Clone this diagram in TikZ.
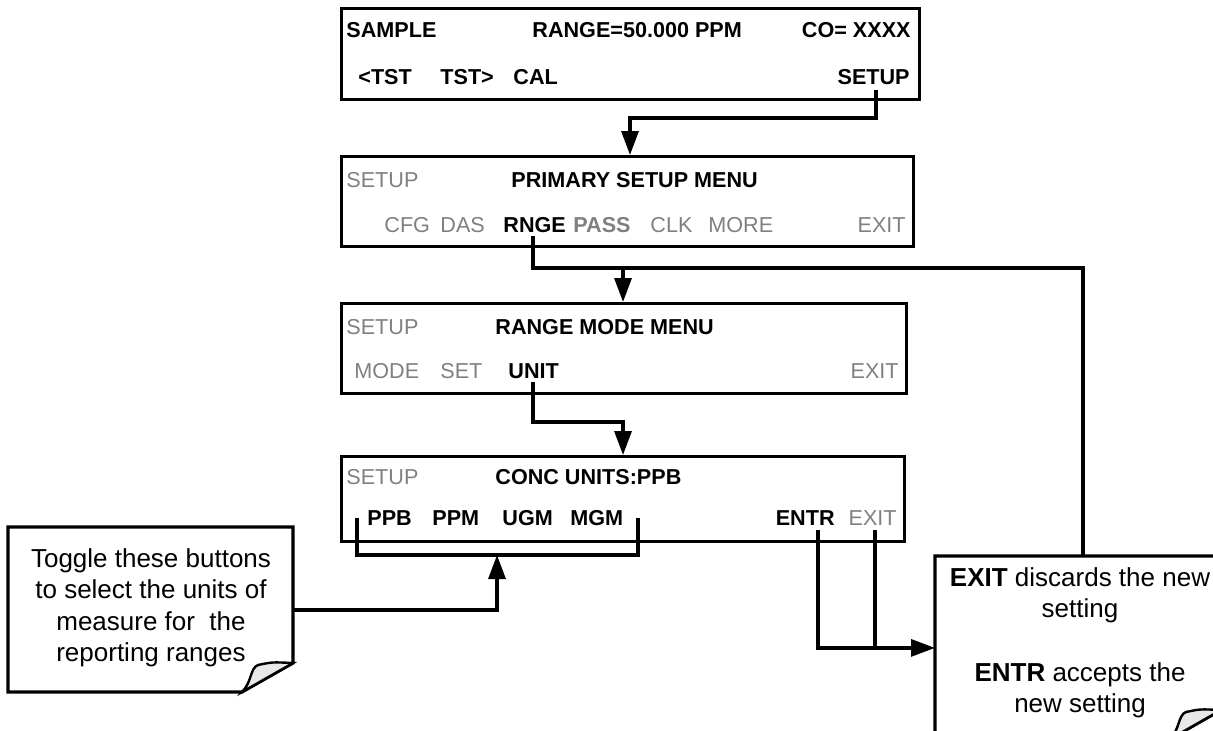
\documentclass[tikz,border=0pt]{standalone}
\usepackage{fontspec}
\setmainfont{Liberation Sans}
\usetikzlibrary{arrows.meta}
\definecolor{lcdgray}{gray}{0.5}
\begin{document}
\begin{tikzpicture}[x=0.5pt,y=-0.5pt,
  lcd/.style={draw=black,line width=1.6pt,inner sep=0pt,anchor=north west},
  key/.style={inner sep=0pt,font=\fontsize{10.8pt}{13pt}\selectfont\bfseries},
  dim/.style={inner sep=0pt,font=\fontsize{10.8pt}{13pt}\selectfont,text=lcdgray},
  keydim/.style={key,text=lcdgray},
  wire/.style={line width=1.6pt},
  arr/.style={wire,-{Triangle[length=12pt,width=8.5pt]}},
  noteline/.style={draw=black,line width=1.6pt,fill=white,line join=miter},
  curl/.style={draw=black,line width=1.2pt,fill=gray!18},
  notebox/.style={inner sep=0pt,anchor=north west},
  notetext/.style={inner sep=0pt,align=center,font=\fontsize{13pt}{15.75pt}\selectfont}]
\useasboundingbox (0,0) rectangle (1213,730);
\clip (0,0) rectangle (1213,730);

% ---------- LCD screens ----------
\node[lcd,minimum width=289pt,minimum height=45.5pt] (b1) at (340,7) {};
\node[lcd,minimum width=286pt,minimum height=45pt] (b2) at (340,155) {};
\node[lcd,minimum width=282.5pt,minimum height=45pt] (b3) at (340,302) {};
\node[lcd,minimum width=281.5pt,minimum height=42.5pt] (b4) at (340,455) {};

% screen 1
\node[key,anchor=base west] (s1a) at (346,37) {SAMPLE};
\node[key,anchor=base west] (s1b) at (532,37) {RANGE=50.000 PPM};
\node[key,anchor=base east] (s1c) at (911,37) {CO= XXXX};
\node[key,anchor=base west] (s1d) at (358,84) {<TST};
\node[key,anchor=base west] (s1e) at (440,84) {TST>};
\node[key,anchor=base west] (s1f) at (513,84) {CAL};
\node[key,anchor=base east] (setupk) at (910,84) {SETUP};

% screen 2
\node[dim,anchor=base west] (s2a) at (346,187) {SETUP};
\node[key,anchor=base west] (s2b) at (511,187) {PRIMARY SETUP MENU};
\node[dim,anchor=base west] (s2c) at (384,232) {CFG};
\node[dim,anchor=base west] (s2d) at (440,232) {DAS};
\node[key,anchor=base west] (rngek) at (503,232) {RNGE};
\node[keydim,anchor=base west] (s2e) at (573,232) {PASS};
\node[dim,anchor=base west] (s2f) at (650,232) {CLK};
\node[dim,anchor=base west] (s2g) at (708,232) {MORE};
\node[dim,anchor=base east] (s2h) at (906,232) {EXIT};

% screen 3
\node[dim,anchor=base west] (s3a) at (346,334) {SETUP};
\node[key,anchor=base west] (s3b) at (495,334) {RANGE MODE MENU};
\node[dim,anchor=base west] (s3c) at (354,378) {MODE};
\node[dim,anchor=base west] (s3d) at (440,378) {SET};
\node[key,anchor=base west] (unitk) at (508,378) {UNIT};
\node[dim,anchor=base east] (s3e) at (899,378) {EXIT};

% screen 4
\node[dim,anchor=base west] (s4a) at (346,484) {SETUP};
\node[key,anchor=base west] (s4b) at (495,484) {CONC UNITS:PPB};
\node[key,anchor=base west] (ppbk) at (367,525) {PPB};
\node[key,anchor=base west] (ppmk) at (432,525) {PPM};
\node[key,anchor=base west] (ugmk) at (502,525) {UGM};
\node[key,anchor=base west] (mgmk) at (570,525) {MGM};
\node[key,anchor=base east] (entrk) at (835,525) {ENTR};
\node[dim,anchor=base east] (exitk) at (897,525) {EXIT};

% ---------- notes ----------
\draw[noteline] (8,527) -- (293,527) -- (293,663) -- (242,692) -- (8,692) -- cycle;
\draw[curl] (242,692) .. controls (252,682) and (250,668) .. (258,665)
            .. controls (272,662) .. (293,663) -- cycle;
\node[notebox,minimum width=142.5pt,minimum height=82.5pt] (lnote) at (8,527) {};
\node[notetext] (ltext) at (151,608) {Toggle these buttons\\to select the units of\\measure for~ the\\reporting ranges};

\draw[noteline] (935,556) -- (1221,556) -- (1221,710) -- (1170,739) -- (935,739) -- cycle;
\draw[curl] (1170,739) .. controls (1180,729) and (1178,715) .. (1186,712)
            .. controls (1200,709) .. (1221,710) -- cycle;
\node[notebox,minimum width=143pt,minimum height=91.5pt] (enote) at (935,556) {};
\node[notetext] (etext) at (1080,643) {\textbf{EXIT} discards the new\\setting\\[16pt]\textbf{ENTR} accepts the\\new setting};

% ---------- connectors ----------
\coordinate (c1s) at (876,90);
\coordinate (c1a) at (630,118);
\draw[arr] (c1s) |- (c1a) -- (c1a |- b2.north);

\coordinate (c2s) at (533,236);
\coordinate (c2a) at (1083,268);
\coordinate (c2b) at (623,268);
\draw[wire] (c2s) |- (c2a) -- (c2a |- enote.north);
\draw[arr] (c2b) -- (c2b |- b3.north);

\coordinate (c3s) at (533,382);
\coordinate (c3a) at (623,422);
\draw[arr] (c3s) |- (c3a) -- (c3a |- b4.north);

% bracket under unit keys
\coordinate (br1) at (357,518);
\coordinate (br2) at (638,518);
\draw[wire] (br1) -- (357,555) -- (638,555) -- (br2);
\coordinate (brm) at (497,555);
\draw[arr] (lnote.east) -| (brm);

% ENTR / EXIT to note
\coordinate (e1) at (818,530);
\coordinate (e2) at (875,530);
\draw[arr] (e1) |- (enote.west);
\draw[wire] (e2) -- (e2 |- enote.west);
\end{tikzpicture}
\end{document}
